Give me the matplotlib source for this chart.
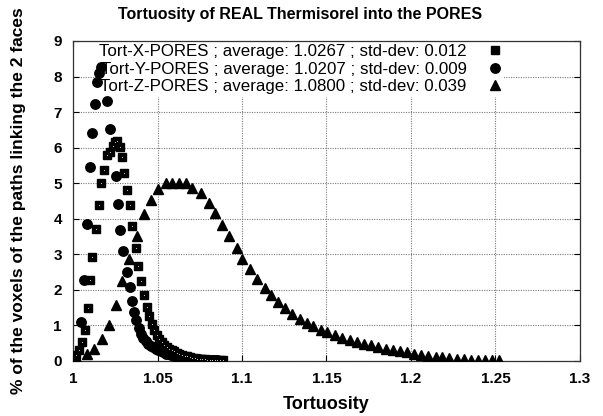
import matplotlib
matplotlib.use("Agg")
import matplotlib.pyplot as plt

plt.rcParams['font.family'] = ['Liberation Sans', 'DejaVu Sans']

# ---- data ----
x_tort_x = [1.0016, 1.0036, 1.0056, 1.0069, 1.0089, 1.0101, 1.0115, 1.0134, 1.0154, 1.0168,
            1.0186, 1.0203, 1.0219, 1.0237, 1.0250, 1.0263, 1.0278, 1.0290, 1.0304, 1.0320,
            1.0337, 1.0352, 1.0372, 1.0387, 1.0405, 1.0422, 1.0436, 1.0450, 1.0466, 1.0480,
            1.0495, 1.0510, 1.0525, 1.0540, 1.0555, 1.0570, 1.0585, 1.0600, 1.0615, 1.0630,
            1.0645, 1.0660, 1.0675, 1.0690, 1.0705, 1.0720, 1.0735, 1.0750, 1.0765, 1.0780,
            1.0795, 1.0810, 1.0825, 1.0840, 1.0855, 1.0870, 1.0885]
y_tort_x = [0.16, 0.30, 0.54, 0.86, 1.48, 2.27, 2.93, 3.70, 4.39, 5.00,
            5.37, 5.79, 5.89, 6.05, 6.15, 6.20, 6.01, 5.75, 5.30, 4.81,
            4.39, 3.79, 3.19, 2.67, 2.25, 1.85, 1.52, 1.27, 1.05, 0.86,
            0.73, 0.62, 0.53, 0.46, 0.40, 0.35, 0.30, 0.27, 0.23, 0.20,
            0.17, 0.15, 0.13, 0.11, 0.09, 0.08, 0.07, 0.06, 0.05, 0.045,
            0.04, 0.035, 0.03, 0.025, 0.02, 0.02, 0.015]

x_tort_y = [1.0012, 1.0046, 1.0065, 1.0083, 1.0101, 1.0112, 1.0133, 1.0142, 1.0156, 1.0168,
            1.0201, 1.0217, 1.0253, 1.0269, 1.0281, 1.0298, 1.0318, 1.0335, 1.0350, 1.0361,
            1.0375, 1.0389, 1.0403, 1.0417, 1.0431, 1.0445, 1.0460, 1.0475, 1.0490, 1.0505,
            1.0520, 1.0535, 1.0550, 1.0565, 1.0580, 1.0595, 1.0610, 1.0625, 1.0640, 1.0655,
            1.0670, 1.0685, 1.0700, 1.0715, 1.0730, 1.0745, 1.0760, 1.0775, 1.0790, 1.0805,
            1.0820, 1.0835, 1.0850]
y_tort_y = [0.12, 1.10, 2.29, 3.85, 5.45, 6.41, 7.22, 7.86, 8.11, 8.26,
            7.30, 6.52, 5.20, 4.42, 3.68, 3.08, 2.51, 2.08, 1.68, 1.38,
            1.14, 0.92, 0.76, 0.65, 0.56, 0.49, 0.43, 0.38, 0.34, 0.30,
            0.27, 0.24, 0.21, 0.19, 0.17, 0.15, 0.13, 0.12, 0.10, 0.09,
            0.08, 0.07, 0.06, 0.055, 0.05, 0.045, 0.04, 0.035, 0.03, 0.03,
            0.025, 0.02, 0.02]

x_tort_z = [1.0026, 1.0085, 1.0124, 1.0170, 1.0215, 1.0253, 1.0290, 1.0331, 1.0381, 1.0422,
            1.0460, 1.0505, 1.0549, 1.0588, 1.0627, 1.0667, 1.0706, 1.0756, 1.0805, 1.0840,
            1.0880, 1.0923, 1.0969, 1.1002, 1.1046, 1.1091, 1.1134, 1.1170, 1.1213, 1.1253,
            1.1298, 1.1341, 1.1387, 1.1422, 1.1466, 1.1505, 1.1549, 1.1594, 1.1637, 1.1679,
            1.1722, 1.1766, 1.1807, 1.1850, 1.1893, 1.1933, 1.1975, 1.2018, 1.2057, 1.2100,
            1.2146, 1.2186, 1.2225, 1.2270, 1.2314, 1.2353, 1.2399, 1.2438, 1.2482, 1.2520]
y_tort_z = [0.07, 0.21, 0.33, 0.62, 1.02, 1.57, 2.24, 2.87, 3.52, 4.13,
            4.53, 4.85, 5.00, 5.01, 5.01, 5.00, 4.86, 4.72, 4.43, 4.15,
            3.82, 3.51, 3.19, 2.88, 2.60, 2.30, 2.06, 1.85, 1.66, 1.49,
            1.33, 1.19, 1.08, 0.99, 0.88, 0.82, 0.72, 0.65, 0.58, 0.54,
            0.49, 0.44, 0.39, 0.35, 0.30, 0.27, 0.24, 0.21, 0.18, 0.14,
            0.11, 0.10, 0.08, 0.06, 0.05, 0.04, 0.03, 0.02, 0.02, 0.02]

labels = ["Tort-X-PORES ; average: 1.0267 ; std-dev: 0.012",
          "Tort-Y-PORES ; average: 1.0207 ; std-dev: 0.009",
          "Tort-Z-PORES ; average: 1.0800 ; std-dev: 0.039"]
x_ticks = [1.0, 1.05, 1.1, 1.15, 1.2, 1.25, 1.3]
x_tick_labels = ["1", "1.05", "1.1", "1.15", "1.2", "1.25", "1.3"]
y_ticks = [0, 1, 2, 3, 4, 5, 6, 7, 8, 9]
title = "Tortuosity of REAL Thermisorel into the PORES"
xlabel = "Tortuosity"
ylabel = "% of the voxels of the paths linking the 2 faces"

# ---- figure ----
fig = plt.figure(figsize=(6.03, 4.16), dpi=100)
ax = fig.add_axes([73 / 603, 1 - 361 / 416, 507 / 603, 320 / 416])

ax.set_axisbelow(True)
ax.grid(True, color='#7a7a7a', linestyle=(0, (1, 1.2)), linewidth=0.8)

ax.plot(x_tort_x, y_tort_x, ls='none', marker='s', ms=5.8, color='black',
        label=labels[0], zorder=3)
ax.plot(x_tort_x, y_tort_x, ls='none', marker='s', ms=0.5, color='white',
        markeredgewidth=0, zorder=3.1)
ax.plot(x_tort_y, y_tort_y, ls='none', marker='o', ms=6.8, color='black',
        label=labels[1], zorder=3)
ax.plot(x_tort_z, y_tort_z, ls='none', marker='^', ms=7.5, color='black',
        label=labels[2], zorder=3)

ax.set_xlim(1.0, 1.3)
ax.set_ylim(0, 9)
ax.set_xticks(x_ticks)
ax.set_xticklabels(x_tick_labels)
ax.set_yticks(y_ticks)
ax.tick_params(direction='in', top=True, right=True, length=4.5, width=0.8,
               labelsize=11, pad=8)
for lab in ax.get_xticklabels() + ax.get_yticklabels():
    lab.set_fontweight('bold')
for s in ax.spines.values():
    s.set_linewidth(0.9)
    s.set_color('#333333')

ax.set_xlabel(xlabel, fontsize=13, fontweight='bold', labelpad=7)
ax.set_ylabel(ylabel, fontsize=12.5, fontweight='bold', labelpad=20)
fig.text(300 / 603, 1 - 14 / 416, title, ha='center', va='center',
         fontsize=11.5, fontweight='bold')

leg = ax.legend(loc='upper right', bbox_to_anchor=(0.85, 1.0), markerfirst=False,
                frameon=True, fancybox=False, framealpha=1.0, facecolor='white',
                edgecolor='none', fontsize=12.2, borderaxespad=0.0, borderpad=0.2,
                labelspacing=0.13, handletextpad=1.4, handlelength=0.6)
leg.set_zorder(2)

fig.savefig("out.png", dpi=100)
